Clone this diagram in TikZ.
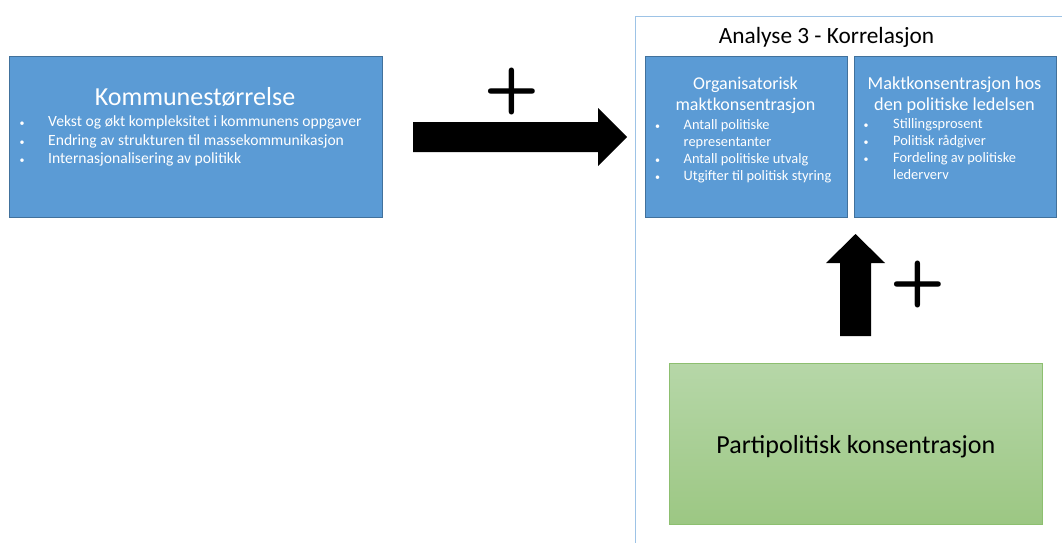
\documentclass[tikz,border=0pt]{standalone}
\usepackage{fontspec}
\setmainfont{Carlito}
\definecolor{boxblue}{HTML}{5B9BD5}
\definecolor{boxedge}{HTML}{41719C}
\definecolor{frameblue}{HTML}{9DC3E6}
\definecolor{greentop}{HTML}{B6D7A8}
\definecolor{greenbot}{HTML}{9CC783}
\definecolor{greenedge}{HTML}{8DBF70}
\begin{document}
\begin{tikzpicture}[x=1pt,y=-1pt,
  bluebox/.style={draw=boxedge, fill=boxblue, line width=0.8pt, anchor=north west, inner sep=0pt},
  greenbox/.style={draw=greenedge, top color=greentop, bottom color=greenbot, line width=0.8pt, anchor=north west, inner sep=0pt},
  frame/.style={draw=frameblue, line width=0.8pt, anchor=north west, inner sep=0pt},
  boxtitle/.style={text=white, anchor=base, inner sep=0pt},
  bullet/.style={text=white, anchor=base west, inner sep=0pt},
  dot/.style={text=white, anchor=base west, inner sep=0pt, font=\fontsize{10}{12}\selectfont},
  blockarrow/.style={fill=black},
  sign/.style={font=\sffamily\bfseries\fontsize{64}{64}\selectfont, inner sep=0pt}
]
\useasboundingbox (0,0) rectangle (1062,543);
\fill[white] (0,0) rectangle (1062,543);

% frame of the analysis area
\node[frame, minimum width=460pt, minimum height=560pt] (frm) at (635,16) {};
\node[anchor=base, inner sep=0pt, font=\fontsize{23.3}{27}\selectfont] (ttl) at (826.5,44) {Analyse 3 - Korrelasjon};

% left box
\node[bluebox, minimum width=373pt, minimum height=161pt] (kom) at (9,56) {};
\node[boxtitle, font=\fontsize{26}{30}\selectfont] (komt) at (195,105.5) {Kommunestørrelse};
\begin{scope}[font=\fontsize{15.6}{18}\selectfont]
  \node[dot] (kb1) at (19.5,126.5) {•};
  \node[dot] (kb2) at (19.5,145) {•};
  \node[dot] (kb3) at (19.5,163) {•};
  \node[bullet] (k1) at (48,126.5) {Vekst og økt kompleksitet i kommunens oppgaver};
  \node[bullet] (k2) at (48,145) {Endring av strukturen til massekommunikasjon};
  \node[bullet] (k3) at (48,163) {Internasjonalisering av politikk};
\end{scope}

% organisational power concentration
\node[bluebox, minimum width=202pt, minimum height=161pt] (org) at (645,56) {};
\begin{scope}[font=\fontsize{18}{21}\selectfont]
  \node[boxtitle] (orgt1) at (745.5,89.5) {Organisatorisk};
  \node[boxtitle] (orgt2) at (745.5,110.5) {maktkonsentrasjon};
\end{scope}
\begin{scope}[font=\fontsize{14.4}{17}\selectfont]
  \node[dot] (ob1) at (655,129.5) {•};
  \node[dot] (ob3) at (655,163.5) {•};
  \node[dot] (ob4) at (655,180.5) {•};
  \node[bullet] (o1) at (683.5,129.5) {Antall politiske};
  \node[bullet] (o2) at (683.5,146.5) {representanter};
  \node[bullet] (o3) at (683.5,163.5) {Antall politiske utvalg};
  \node[bullet] (o4) at (683.5,180.5) {Utgifter til politisk styring};
\end{scope}

% power concentration in the political leadership
\node[bluebox, minimum width=202pt, minimum height=161pt] (led) at (854,56) {};
\begin{scope}[font=\fontsize{18.3}{21}\selectfont]
  \node[boxtitle] (ledt1) at (954.5,89) {Maktkonsentrasjon hos};
  \node[boxtitle] (ledt2) at (954.5,110) {den politiske ledelsen};
\end{scope}
\begin{scope}[font=\fontsize{14.4}{17}\selectfont]
  \node[dot] (lb1) at (863.5,128.5) {•};
  \node[dot] (lb2) at (863.5,145.5) {•};
  \node[dot] (lb3) at (863.5,162.5) {•};
  \node[bullet] (l1) at (893,128.5) {Stillingsprosent};
  \node[bullet] (l2) at (893,145.5) {Politisk rådgiver};
  \node[bullet] (l3) at (893,162.5) {Fordeling av politiske};
  \node[bullet] (l4) at (893,179.5) {lederverv};
\end{scope}

% party-political concentration
\node[greenbox, minimum width=373pt, minimum height=161pt] (par) at (669,363) {};
\node[anchor=base, inner sep=0pt, font=\fontsize{26}{30}\selectfont] (part) at (par.center |- 0,453.5) {Partipolitisk konsentrasjon};

% block arrows
\fill[blockarrow] (413,122) -- (598,122) -- (598,108) -- (627,137) -- (598,166) -- (598,152) -- (413,152) -- cycle;
\fill[blockarrow] (840,336) -- (840,263) -- (826,263) -- (855.5,234) -- (885,263) -- (871,263) -- (871,336) -- cycle;

% signs
\node[sign] (p1) at (512,91) {+};
\node[sign] (p2) at (918,284) {+};
\end{tikzpicture}
\end{document}
